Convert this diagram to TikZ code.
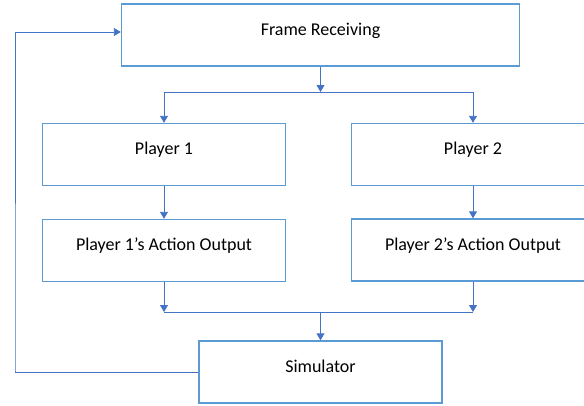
\documentclass[tikz,border=0pt]{standalone}
\usepackage{fontspec}
\setmainfont{Carlito}
\usetikzlibrary{arrows.meta,positioning,calc}
\definecolor{boxblue}{HTML}{5B9BD5}
\definecolor{arrblue}{HTML}{4472C4}
\tikzset{
  blk/.style={draw=boxblue, line width=1.4pt, rectangle, inner sep=0pt,
    minimum width=243pt, minimum height=62pt, font=\fontsize{18}{21}\selectfont,
    text height=13pt, text depth=13pt},
  conn/.style={draw=arrblue, line width=0.9pt},
  arr/.style={conn, -{Triangle[width=8pt,length=7pt]}}
}
\begin{document}
\begin{tikzpicture}[x=1pt,y=-1pt]
\useasboundingbox (0,0) rectangle (584,405);
\node[blk, minimum width=398pt] (frame) at (320.5,35) {Frame Receiving};
\node[blk] (p1) at (164,154.5) {Player 1};
\node[blk] (p2) at (473,154.5) {Player 2};
\node[blk] (a1) at (164,250.5) {Player 1’s Action Output};
\node[blk] (a2) at (473,250) {Player 2’s Action Output};
\node[blk] (sim) at (320.5,372) {Simulator};
\coordinate (split) at (320.5,92);
\coordinate (merge) at (320.5,312);
\coordinate (loop) at (15,371);
\draw[arr] (frame.south) -- (split);
\draw[arr] (split) -| (p1.north);
\draw[arr] (split) -| (p2.north);
\draw[arr] (p1) -- (a1);
\draw[arr] (p2) -- (a2);
\draw[arr] (a1.south) -- (a1.south |- merge);
\draw[arr] (a2.south) -- (a2.south |- merge);
\draw[conn] (a1.south |- merge) -- (a2.south |- merge);
\draw[arr] (merge) -- (sim.north);
\draw[arr] (sim.west) -| (loop) |- ([yshift=3pt]frame.west);
\end{tikzpicture}
\end{document}
